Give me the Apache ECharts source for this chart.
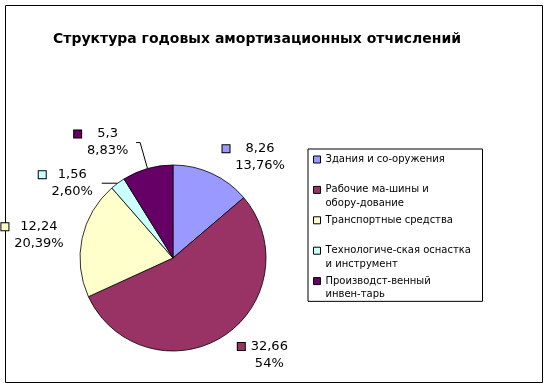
<!DOCTYPE html>
<html>
<head>
<meta charset="utf-8">
<script src="https://cdn.jsdelivr.net/npm/echarts@6/dist/echarts.min.js"></script>
<style>
html,body{margin:0;padding:0;background:#fff;}
#chart{width:549px;height:388px;}
</style>
</head>
<body>
<div id="chart"></div>
<script>
// ---- data ----
const titleText = 'Структура годовых амортизационных отчислений';
const categories = [
  'Здания и со-оружения',
  'Рабочие ма-шины и\nобору-дование',
  'Транспортные средства',
  'Технологиче-ская оснастка\nи инструмент',
  'Производст-венный\nинвен-тарь'
];
const values = [8.26, 32.66, 12.24, 1.56, 5.3];
const valueLabels = ['8,26', '32,66', '12,24', '1,56', '5,3'];
const percentLabels = ['13,76%', '54%', '20,39%', '2,60%', '8,83%'];

// ---- styles ----
const colors = ['#9999FF', '#993366', '#FFFFCC', '#CCFFFF', '#660066'];
const lineLen = [18, 22, 15, 0, 27];
const lineLen2 = [0, 0, 0, 16, 4];
const labelDist = [3, 3, 3, 8, 7];
const showLine = [false, false, false, true, true];
const FONT = 'DejaVu Sans';
const LABEL_FONT_SIZE = 13;
const LEGEND_LH = 13.5;

// measure text widths so the two label lines share one centred column
const mctx = document.createElement('canvas').getContext('2d');
mctx.font = LABEL_FONT_SIZE + 'px "' + FONT + '"';
const tw = s => Math.ceil(mctx.measureText(s).width);

const seriesData = categories.map((name, i) => {
  const W = Math.max(tw(valueLabels[i]), tw(percentLabels[i])) + 1;
  return {
    name: name,
    value: values[i],
    itemStyle: { color: colors[i] },
    label: {
      distanceToLabelLine: labelDist[i],
      formatter: '{sq|}{g|}{v|' + valueLabels[i] + '}\n{sqe|}{g|}{p|' + percentLabels[i] + '}',
      rich: {
        sq: { width: 7, height: 7, backgroundColor: colors[i], borderColor: '#000', borderWidth: 1, align: 'left' },
        sqe: { width: 7, height: 7, align: 'left' },
        g: { width: 5, align: 'left' },
        v: { width: W, fontSize: LABEL_FONT_SIZE, fontFamily: FONT, color: '#000', lineHeight: 17, align: 'center' },
        p: { width: W, fontSize: LABEL_FONT_SIZE, fontFamily: FONT, color: '#000', lineHeight: 17, align: 'center' }
      }
    },
    labelLine: { show: showLine[i], length: lineLen[i], length2: lineLen2[i] }
  };
});

const chart = echarts.init(document.getElementById('chart'), null, { renderer: 'canvas' });
chart.setOption({
  animation: false,
  backgroundColor: '#fff',
  title: {
    text: titleText,
    left: 48,
    top: 27,
    textStyle: { fontFamily: FONT, fontWeight: 'bold', fontSize: 14, color: '#000' }
  },
  graphic: [{
    type: 'rect',
    shape: { x: 5.5, y: 5.5, width: 537, height: 377 },
    style: { fill: 'none', stroke: '#000', lineWidth: 1 },
    silent: true
  }],
  legend: {
    orient: 'vertical',
    left: 308,
    top: 149,
    padding: [-9.75, 8, 0, 5],
    itemGap: -10.1,
    itemWidth: 7,
    itemHeight: 7,
    icon: 'rect',
    borderColor: '#000',
    borderWidth: 1,
    itemStyle: { borderColor: '#000', borderWidth: 1 },
    // three text lines per item, the first real line in the middle (level with the key)
    formatter: function (name) {
      return name.indexOf('\n') >= 0 ? ' \n' + name : ' \n' + name + '\n ';
    },
    textStyle: { fontFamily: FONT, fontSize: 10, color: '#000', width: 149, lineHeight: LEGEND_LH },
    data: categories
  },
  series: [{
    type: 'pie',
    center: [173, 258],
    radius: 93,
    startAngle: 90,
    clockwise: true,
    avoidLabelOverlap: false,
    itemStyle: { borderColor: '#000', borderWidth: 0.8 },
    label: { show: true, position: 'outside' },
    labelLine: { lineStyle: { color: '#000', width: 1 }, smooth: false },
    emphasis: { disabled: true },
    data: seriesData
  }]
});
</script>
</body>
</html>
